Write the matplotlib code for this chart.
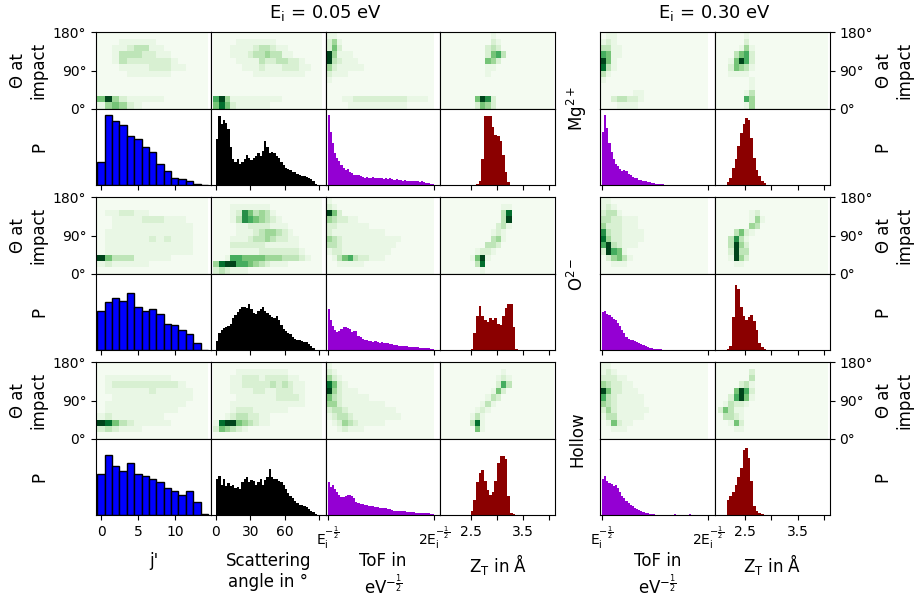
import numpy as np
import matplotlib
matplotlib.use('Agg')
import matplotlib.pyplot as plt
from matplotlib.colors import PowerNorm

W, H = 915, 599

# ---------------- data ----------------
species = ['Mg$^{2+}$', 'O$^{2-}$', 'Hollow']
titles = ['E$_\\mathrm{i}$ = 0.05 eV', 'E$_\\mathrm{i}$ = 0.30 eV']

j_values = np.arange(15)
angle_edges = np.arange(0, 91, 2)
tof_edges = np.linspace(1.0, 2.0, 51)
z_edges = np.linspace(2.0, 3.5, 31)

# heatmap grids (x edges of cells), theta rows 0..180 in 15 deg steps
hm_j_edges = np.arange(-0.5, 15.0, 1.0)
hm_angle_edges = np.arange(-2.5, 93.0, 5.0)
hm_tof_edges = np.linspace(0.985, 2.0, 21)
hm_z_edges = np.linspace(1.88, 4.08, 23)
theta_edges = np.arange(0, 181, 15)

# P(j') histograms, E = 0.05 eV
j_mg = [0.31, 0.92, 0.84, 0.79, 0.64, 0.61, 0.50, 0.43, 0.28, 0.19, 0.10, 0.08, 0.06, 0.02, 0.004]
j_o = [0.51, 0.63, 0.68, 0.65, 0.75, 0.57, 0.52, 0.54, 0.48, 0.35, 0.33, 0.26, 0.21, 0.10, 0.01]
j_hollow = [0.54, 0.79, 0.64, 0.58, 0.69, 0.54, 0.52, 0.47, 0.44, 0.36, 0.32, 0.26, 0.32, 0.17, 0.02]

# scattering angle histograms (2 deg bins)
ang_mg = [0.60, 0.91, 0.80, 0.86, 0.82, 0.74, 0.50, 0.35, 0.31, 0.34,
          0.28, 0.30, 0.34, 0.40, 0.36, 0.33, 0.36, 0.38, 0.42, 0.38,
          0.45, 0.58, 0.50, 0.42, 0.44, 0.42, 0.38, 0.36, 0.30, 0.27,
          0.22, 0.21, 0.20, 0.18, 0.17, 0.15, 0.14, 0.12, 0.12, 0.11,
          0.10, 0.08, 0.05, 0.02, 0.0]
ang_o = [0.12, 0.23, 0.26, 0.29, 0.30, 0.32, 0.35, 0.42, 0.46, 0.50,
         0.54, 0.56, 0.57, 0.55, 0.61, 0.54, 0.49, 0.47, 0.51, 0.54,
         0.56, 0.52, 0.49, 0.46, 0.43, 0.42, 0.45, 0.40, 0.33, 0.28,
         0.25, 0.22, 0.21, 0.18, 0.15, 0.14, 0.13, 0.12, 0.11, 0.11,
         0.08, 0.06, 0.03, 0.01, 0.0]
ang_hollow = [0.47, 0.52, 0.40, 0.48, 0.38, 0.42, 0.38, 0.40, 0.36, 0.37,
              0.35, 0.44, 0.48, 0.50, 0.44, 0.46, 0.45, 0.39, 0.44, 0.48,
              0.40, 0.46, 0.50, 0.60, 0.50, 0.48, 0.47, 0.45, 0.43, 0.39,
              0.34, 0.29, 0.25, 0.22, 0.19, 0.16, 0.14, 0.13, 0.12, 0.11,
              0.08, 0.06, 0.04, 0.02, 0.0]

# time of flight histograms (in units of E_i^-1/2)
tof_mg_005 = [0.92, 0.70, 0.55, 0.42, 0.36, 0.32, 0.26, 0.22, 0.20, 0.21,
              0.17, 0.16, 0.14, 0.13, 0.13, 0.12, 0.11, 0.10, 0.11, 0.10,
              0.10, 0.11, 0.09, 0.10, 0.09, 0.10, 0.08, 0.09, 0.08, 0.09,
              0.08, 0.07, 0.08, 0.07, 0.07, 0.06, 0.07, 0.06, 0.06, 0.05,
              0.06, 0.05, 0.05, 0.04, 0.05, 0.04, 0.03, 0.03, 0.02, 0.02]
tof_o_005 = [0.54, 0.40, 0.32, 0.27, 0.24, 0.25, 0.28, 0.31, 0.31, 0.29,
             0.28, 0.24, 0.25, 0.25, 0.19, 0.17, 0.15, 0.14, 0.13, 0.12,
             0.12, 0.11, 0.12, 0.11, 0.10, 0.11, 0.10, 0.09, 0.09, 0.08,
             0.08, 0.07, 0.07, 0.06, 0.06, 0.05, 0.05, 0.05, 0.045, 0.04,
             0.045, 0.04, 0.04, 0.035, 0.035, 0.03, 0.03, 0.025, 0.02, 0.015]
tof_hollow_005 = [0.44, 0.37, 0.39, 0.34, 0.31, 0.27, 0.24, 0.24, 0.25, 0.26,
                  0.26, 0.25, 0.22, 0.18, 0.16, 0.15, 0.15, 0.14, 0.13, 0.12,
                  0.12, 0.12, 0.11, 0.11, 0.10, 0.10, 0.09, 0.09, 0.08, 0.08,
                  0.07, 0.06, 0.06, 0.05, 0.05, 0.05, 0.05, 0.045, 0.04, 0.04,
                  0.04, 0.035, 0.035, 0.035, 0.03, 0.03, 0.03, 0.025, 0.02, 0.02]
tof_mg_030 = [0.70, 0.92, 0.75, 0.55, 0.43, 0.35, 0.28, 0.25, 0.21, 0.19,
              0.20, 0.19, 0.15, 0.13, 0.11, 0.10, 0.09, 0.075, 0.065, 0.055,
              0.05, 0.045, 0.04, 0.035, 0.03, 0.02, 0.017, 0.014, 0.012, 0.01,
              0.008, 0.008, 0.006, 0.006, 0.01, 0.005, 0.004, 0.003, 0.003, 0.002,
              0.002, 0.002, 0.002, 0.001, 0.001, 0.001, 0.001, 0.001, 0.0, 0.0]
tof_o_030 = [0.50, 0.52, 0.48, 0.46, 0.43, 0.41, 0.39, 0.36, 0.32, 0.26,
             0.22, 0.18, 0.15, 0.13, 0.13, 0.12, 0.11, 0.09, 0.08, 0.065,
             0.055, 0.045, 0.035, 0.03, 0.02, 0.017, 0.014, 0.012, 0.01, 0.008,
             0.006, 0.005, 0.004, 0.004, 0.003, 0.003, 0.003, 0.002, 0.002, 0.002,
             0.002, 0.001, 0.001, 0.001, 0.001, 0.001, 0.001, 0.0, 0.0, 0.0]
tof_hollow_030 = [0.48, 0.51, 0.45, 0.42, 0.41, 0.38, 0.40, 0.36, 0.30, 0.25,
                  0.22, 0.19, 0.16, 0.13, 0.12, 0.10, 0.085, 0.07, 0.055, 0.045,
                  0.035, 0.025, 0.02, 0.015, 0.012, 0.01, 0.008, 0.006, 0.005, 0.004,
                  0.004, 0.003, 0.003, 0.003, 0.02, 0.003, 0.002, 0.002, 0.002, 0.002,
                  0.002, 0.02, 0.002, 0.001, 0.001, 0.001, 0.001, 0.001, 0.0, 0.0]

# Z_T histograms (0.05 A bins from 2.0 to 3.5)
z_mg_005 = [0, 0, 0, 0, 0, 0, 0, 0, 0, 0,
            0.003, 0.006, 0.02, 0.06, 0.35, 0.91, 0.91, 0.90, 0.76, 0.66,
            0.64, 0.58, 0.40, 0.17, 0.04, 0.01, 0.005, 0, 0, 0]
z_o_005 = [0, 0, 0, 0, 0, 0, 0, 0, 0, 0,
           0.02, 0.22, 0.45, 0.58, 0.45, 0.40, 0.37, 0.42, 0.40, 0.42,
           0.35, 0.33, 0.45, 0.55, 0.61, 0.61, 0.31, 0.02, 0.01, 0.008]
z_hollow_005 = [0, 0, 0, 0, 0, 0, 0, 0, 0, 0,
                0.06, 0.20, 0.44, 0.55, 0.59, 0.45, 0.33, 0.27, 0.31, 0.45,
                0.68, 0.77, 0.77, 0.74, 0.25, 0.03, 0.02, 0.01, 0, 0]
z_mg_030 = [0, 0, 0.01, 0.04, 0.10, 0.22, 0.35, 0.52, 0.68, 0.80,
            0.88, 0.85, 0.62, 0.36, 0.20, 0.12, 0.06, 0.025, 0.01, 0.005,
            0, 0, 0, 0, 0, 0, 0, 0, 0, 0]
z_o_030 = [0, 0, 0, 0.02, 0.05, 0.43, 0.85, 0.80, 0.56, 0.45,
           0.39, 0.43, 0.46, 0.38, 0.27, 0.10, 0.04, 0.015, 0.008, 0.005,
           0, 0, 0, 0, 0, 0, 0, 0, 0, 0]
z_hollow_030 = [0, 0, 0.01, 0.20, 0.25, 0.30, 0.39, 0.50, 0.62, 0.86,
                0.88, 0.75, 0.45, 0.12, 0.05, 0.035, 0.02, 0.01, 0.005, 0,
                0, 0, 0, 0, 0, 0, 0, 0, 0, 0]

# heatmaps: intensity 0-9, top row = 165-180 deg, bottom row = 0-15 deg
hm_j_mg = ["000000000000000", "000111110000000", "001123311000000", "001333221100000",
           "001322222210000", "000111122211000", "000011111100000", "000000000000000",
           "000000000000000", "000000000000000", "594211111000000", "145421000000000"]
hm_ang_mg = ["0000000000000000000", "0000111111100000000", "0001111233211000000",
             "0001112334331100000", "0000111132233221000", "0000011121112221100",
             "0000000111111111000", "0000000000000000000", "0000000000000000000",
             "0000000000000000000", "6941111111110000000", "5852111111000000000"]
hm_tof_mg_005 = ["11000000000000000000", "24100000000000000000", "25200000000000000000",
                 "94111000000000000000", "93211100000000000000", "42111110000000000000",
                 "21110000000000000000", "10000000000000000000", "00000000000000000000",
                 "00000000000000000000", "00011222222222211110", "00001111111111100000"]
hm_z_mg_005 = ["0000000000100000000000", "0000000000210000000000", "0000000002320000000000",
               "0000000002563000000000", "0000000005420000000000", "0000000001100000000000",
               "0000000001000000000000", "0000000000000000000000", "0000000000000000000000",
               "0000000000000000000000", "0000000597200000000000", "0000000254200000000000"]

hm_j_o = ["000000000000000", "000000000000000", "011221100000000", "001111222111000",
          "001111111111100", "011111111111100", "011111121211100", "011111111111100",
          "011111111111100", "953331111100000", "121111100000000", "000000000000000"]
hm_ang_o = ["0000000000000000000", "0001111111000000000", "0001275343100000000",
            "0001376543210000000", "0000112222111000000", "0000111234432100000",
            "0001112334322110000", "0002222221111110000", "0001111122222221000",
            "0016655554443332100", "4899665432111000000", "2321110000000000000"]
hm_tof_o_005 = ["10000000000000000000", "21000000000000000000", "95200000000000000000",
                "43221100000000000000", "22111111000000000000", "21111111111000000000",
                "43211111111111000000", "33211111111110000000", "12211111111100000000",
                "01356322111000000000", "00111110000000000000", "00000000000000000000"]
hm_z_o_005 = ["0000000000000000000000", "0000000000001100000000", "0000000000003800000000",
              "0000000000003900000000", "0000000000023100000000", "0000000000121000000000",
              "0000000000341000000000", "0000000003320000000000", "0000000122100000000000",
              "0000001591000000000000", "0000000380000000000000", "0000000010000000000000"]

hm_j_hollow = ["000000000000000", "000000000000000", "011111111100000", "012222222221000",
               "011111121111100", "001111111111100", "011111111111000", "011111111110000",
               "121111111000000", "985321111100000", "232111000000000", "000000000000000"]
hm_ang_hollow = ["0000000000000000000", "0000111111111000000", "0001122212222110000",
                 "0001122222323211000", "0001111221122211000", "0000111111122221000",
                 "0001111111111111000", "0001222111111000000", "0012332211000000000",
                 "1899543211000000000", "2543210000000000000", "0000000000000000000"]
hm_tof_hollow_005 = ["10000000000000000000", "21000000000000000000", "42100000000000000000",
                     "85210000000000000000", "94211100000000000000", "53211111000000000000",
                     "44211111111000000000", "23321111111110000000", "12332111111111000000",
                     "01243211111000000000", "00121110000000000000", "00000000000000000000"]
hm_z_hollow_005 = ["0000000000000000000000", "0000000000001000000000", "0000000000012100000000",
                   "0000000000026300000000", "0000000000152000000000", "0000000001320000000000",
                   "0000000013100000000000", "0000000121000000000000", "0000001310000000000000",
                   "0000003810000000000000", "0000000510000000000000", "0000000000000000000000"]

hm_tof_mg_030 = ["01100000000000000000", "12100000000000000000", "33110000000000000000",
                 "65110000000000000000", "95100000000000000000", "83100000000000000000",
                 "31000000000000000000", "10000000000000000000", "00000000000000000000",
                 "00000011000000000000", "00233221000000000000", "00011110000000000000"]
hm_z_mg_030 = ["0000001000000000000000", "0000002000000000000000", "0000014100000000000000",
               "0000356200000000000000", "0001596200000000000000", "0002543100000000000000",
               "0001111000000000000000", "0000000100000000000000", "0000000100000000000000",
               "0000001300000000000000", "0000006400000000000000", "0000001400000000000000"]
hm_tof_o_030 = ["11000000000000000000", "12100000000000000000", "23310000000000000000",
                "33221110000000000000", "42221110000000000000", "73221111000000000000",
                "84221111000000000000", "69321110000000000000", "29651000000000000000",
                "02453100000000000000", "00111000000000000000", "00000000000000000000"]
hm_z_o_030 = ["0000000000000000000000", "0000000000000000000000", "0000000120000000000000",
              "0000000141000000000000", "0000000430000000000000", "0000352100000000000000",
              "0003731000000000000000", "0003942000000000000000", "0002933000000000000000",
              "0001942000000000000000", "0000110000000000000000", "0000000000000000000000"]
hm_tof_hollow_030 = ["11000000000000000000", "12100000000000000000", "22211000000000000000",
                     "43221100000000000000", "95221110000000000000", "63211111000000000000",
                     "43211111000000000000", "24211111100000000000", "13311111000000000000",
                     "01521100000000000000", "00111000000000000000", "00000000000000000000"]
hm_z_hollow_030 = ["0000000000000000000000", "0000000200000000000000", "0000000300000000000000",
                   "0000023100000000000000", "0000596200000000000000", "0002695100000000000000",
                   "0013221000000000000000", "0253110000000000000000", "0033210000000000000000",
                   "0001520000000000000000", "0000110000000000000000", "0000000000000000000000"]

# ---------------- figure ----------------
fig = plt.figure(figsize=(W / 100, H / 100), dpi=100)

TICK_FS = 10
LAB_FS = 12


def add_ax(x0, y0, w, h):
    return fig.add_axes([x0 / W, 1 - (y0 + h) / H, w / W, h / H])


def grid(rows):
    return np.array([[int(c) for c in r] for r in rows], dtype=float)[::-1]


colw = 114.8
left_x = [96.0, 96.0 + colw, 96.0 + 2 * colw, 96.0 + 3 * colw]
right_x = [600.0, 600.0 + colw]
row_tops = [32.3, 197.3, 362.3]
ph = 76.5

tof_labels = ['E$_\\mathrm{i}^{-\\frac{1}{2}}$', '2E$_\\mathrm{i}^{-\\frac{1}{2}}$']

col_specs = {
    'j': dict(hm_edges=hm_j_edges, xlim=(-0.68, 14.88), ticks=[0, 5, 10],
              labels=['0', '5', '10']),
    'ang': dict(hm_edges=hm_angle_edges, xlim=(-4.5, 95.5), ticks=[0, 30, 60, 90],
                labels=['0', '30', '60', '']),
    'tof': dict(hm_edges=hm_tof_edges, xlim=(0.980, 2.0625), ticks=[1, 2],
                labels=tof_labels),
    'z': dict(hm_edges=hm_z_edges, xlim=(1.92, 4.11), ticks=[2.5, 3.0, 3.5, 4.0],
              labels=['2.5', '', '3.5', '']),
}

left_cols = ['j', 'ang', 'tof', 'z']
right_cols = ['tof', 'z']

left_hm = [[hm_j_mg, hm_ang_mg, hm_tof_mg_005, hm_z_mg_005],
           [hm_j_o, hm_ang_o, hm_tof_o_005, hm_z_o_005],
           [hm_j_hollow, hm_ang_hollow, hm_tof_hollow_005, hm_z_hollow_005]]
right_hm = [[hm_tof_mg_030, hm_z_mg_030],
            [hm_tof_o_030, hm_z_o_030],
            [hm_tof_hollow_030, hm_z_hollow_030]]
left_hist = [[j_mg, ang_mg, tof_mg_005, z_mg_005],
             [j_o, ang_o, tof_o_005, z_o_005],
             [j_hollow, ang_hollow, tof_hollow_005, z_hollow_005]]
right_hist = [[tof_mg_030, z_mg_030],
              [tof_o_030, z_o_030],
              [tof_hollow_030, z_hollow_030]]

hm_norm = PowerNorm(gamma=1.3, vmin=-0.6, vmax=9)


def draw_hist(ax, kind, vals):
    if kind == 'j':
        ax.bar(j_values, vals, width=1.0, color='#0000ff', edgecolor='black', linewidth=1.0)
    elif kind == 'ang':
        ax.stairs(vals, angle_edges, fill=True, color='black')
    elif kind == 'tof':
        ax.stairs(vals, tof_edges, fill=True, color='#9400d3')
    else:
        ax.stairs(vals, z_edges, fill=True, color='#8b0000')


def panel(x0, top, kind, hm_rows, hist_vals, is_bottom, ytick_side):
    spec = col_specs[kind]
    axh = add_ax(x0, top, colw, ph)
    axh.pcolormesh(spec['hm_edges'], theta_edges, grid(hm_rows), cmap='Greens',
                   norm=hm_norm, shading='flat')
    axh.set_xlim(*spec['xlim'])
    axh.set_ylim(0, 180)
    axh.set_xticks([])
    if ytick_side == 'left':
        axh.set_yticks([0, 90, 180])
        axh.set_yticklabels(['0°', '90°', '180°'])
    elif ytick_side == 'right':
        axh.yaxis.tick_right()
        axh.set_yticks([0, 90, 180])
        axh.set_yticklabels(['0°', '90°', '180°'])
    else:
        axh.set_yticks([])
    axh.tick_params(labelsize=TICK_FS)

    ax = add_ax(x0, top + ph, colw, ph)
    draw_hist(ax, kind, hist_vals)
    ax.set_xlim(*spec['xlim'])
    ax.set_ylim(0, 1.0)
    ax.set_yticks([])
    ax.set_xticks(spec['ticks'])
    if is_bottom:
        ax.set_xticklabels(spec['labels'])
    else:
        ax.set_xticklabels([])
    ax.tick_params(labelsize=TICK_FS)
    return axh, ax


for r in range(3):
    top = row_tops[r]
    for c, kind in enumerate(left_cols):
        panel(left_x[c], top, kind, left_hm[r][c], left_hist[r][c], r == 2,
              'left' if c == 0 else None)
    for c, kind in enumerate(right_cols):
        panel(right_x[c], top, kind, right_hm[r][c], right_hist[r][c], r == 2,
              'right' if c == 1 else None)

    # y labels
    yc_hm = top + ph / 2
    yc_h = top + 1.5 * ph
    fig.text(28 / W, 1 - yc_hm / H, 'Θ at\nimpact', rotation=90, ha='center',
             va='center', fontsize=LAB_FS)
    fig.text(39 / W, 1 - yc_h / H, 'P', rotation=90, ha='center', va='center',
             fontsize=LAB_FS)
    fig.text(894 / W, 1 - yc_hm / H, 'Θ at\nimpact', rotation=90, ha='center',
             va='center', fontsize=LAB_FS)
    fig.text(882.5 / W, 1 - yc_h / H, 'P', rotation=90, ha='center', va='center',
             fontsize=LAB_FS)
    fig.text(577 / W, 1 - (top + ph) / H, species[r], rotation=90, ha='center',
             va='center', fontsize=LAB_FS)

# titles
fig.text(left_x[2] / W, 1 - 18.3 / H, titles[0], ha='center', va='baseline', fontsize=13)
fig.text(right_x[1] / W, 1 - 18.3 / H, titles[1], ha='center', va='baseline', fontsize=13)

# bottom labels
bottom_labels_left = ["j'", 'Scattering\nangle in °', 'ToF in\neV$^{-\\frac{1}{2}}$',
                      'Z$_\\mathrm{T}$ in Å']
bottom_labels_right = ['ToF in\neV$^{-\\frac{1}{2}}$', 'Z$_\\mathrm{T}$ in Å']
for c, lab in enumerate(bottom_labels_left):
    fig.text((left_x[c] + colw / 2) / W, 1 - 552 / H, lab, ha='center', va='top',
             fontsize=LAB_FS)
for c, lab in enumerate(bottom_labels_right):
    fig.text((right_x[c] + colw / 2) / W, 1 - 552 / H, lab, ha='center', va='top',
             fontsize=LAB_FS)

fig.savefig('out.png', dpi=100)
